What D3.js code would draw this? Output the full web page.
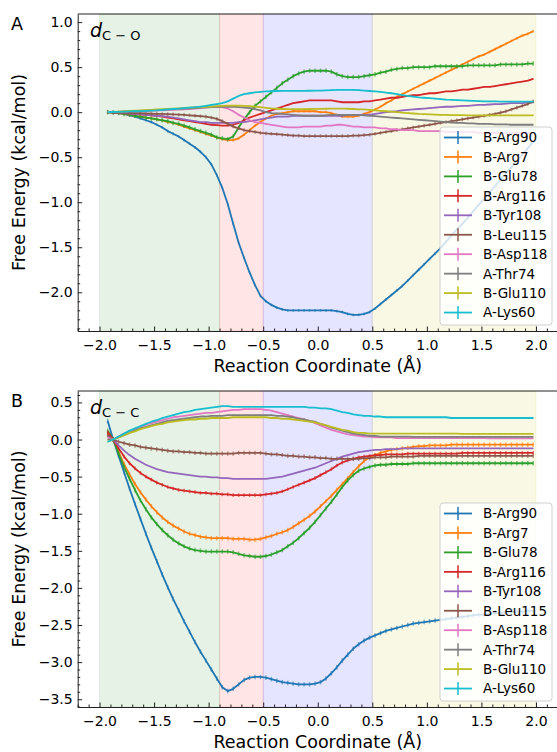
<!DOCTYPE html>
<html>
<head>
<meta charset="utf-8">
<script src="https://cdn.jsdelivr.net/npm/d3@7"></script>
<style>
  body { margin: 0; background: #fff; }
  svg { display: block; font-family: "DejaVu Sans", sans-serif; }
</style>
</head>
<body>
<div id="chart"></div>
<script>
// Residues, in legend order
const residues = ["B-Arg90", "B-Arg7", "B-Glu78", "B-Arg116", "B-Tyr108",
                  "B-Leu115", "B-Asp118", "A-Thr74", "B-Glu110", "A-Lys60"];

// Reaction coordinate (bin centres, Å)
const coord = [
  -1.925, -1.875, -1.825, -1.775, -1.725, -1.675, -1.625, -1.575, -1.525, -1.475,
  -1.425, -1.375, -1.325, -1.275, -1.225, -1.175, -1.125, -1.075, -1.025, -0.975,
  -0.925, -0.875, -0.825, -0.775, -0.725, -0.675, -0.625, -0.575, -0.525, -0.475,
  -0.425, -0.375, -0.325, -0.275, -0.225, -0.175, -0.125, -0.075, -0.025, 0.025,
  0.075, 0.125, 0.175, 0.225, 0.275, 0.325, 0.375, 0.425, 0.475, 0.525,
  0.575, 0.625, 0.675, 0.725, 0.775, 0.825, 0.875, 0.925, 0.975, 1.025,
  1.075, 1.125, 1.175, 1.225, 1.275, 1.325, 1.375, 1.425, 1.475, 1.525,
  1.575, 1.625, 1.675, 1.725, 1.775, 1.825, 1.875, 1.925, 1.975
];

// Shaded stages along the coordinate
const regionEdges = [-2.0, -0.9, -0.5, 0.5, 2.0];

// Tick labels
const xTicks = [-2.0, -1.5, -1.0, -0.5, 0.0, 0.5, 1.0, 1.5, 2.0];
const yTicksA = [-2.0, -1.5, -1.0, -0.5, 0.0, 0.5, 1.0];
const yTicksB = [-3.5, -3.0, -2.5, -2.0, -1.5, -1.0, -0.5, 0.0, 0.5];

// Panel A: d(C-O), free energy (kcal/mol)
const a_arg90 = [0, -0.005, -0.01, -0.02, -0.035, -0.05, -0.07, -0.09, -0.11, -0.14,
  -0.17, -0.21, -0.24, -0.27, -0.31, -0.35, -0.39, -0.44, -0.50, -0.58,
  -0.70, -0.84, -1.02, -1.24, -1.45, -1.62, -1.78, -1.92, -2.04, -2.10,
  -2.14, -2.17, -2.19, -2.20, -2.20, -2.20, -2.20, -2.20, -2.20, -2.20,
  -2.20, -2.20, -2.21, -2.22, -2.24, -2.25, -2.25, -2.24, -2.22, -2.18,
  -2.13, -2.08, -2.03, -1.98, -1.93, -1.87, -1.81, -1.75, -1.69, -1.63,
  -1.57, -1.51, -1.44, -1.37, -1.30, -1.24, -1.17, -1.10, -1.03, -0.96,
  -0.89, -0.82, -0.75, -0.68, -0.61, -0.54, -0.47, -0.40, -0.33];
const a_arg7 = [0, -0.005, -0.01, -0.02, -0.03, -0.04, -0.05, -0.06, -0.07, -0.08,
  -0.09, -0.11, -0.12, -0.14, -0.16, -0.18, -0.20, -0.22, -0.24, -0.26,
  -0.28, -0.30, -0.31, -0.31, -0.29, -0.25, -0.20, -0.15, -0.11, -0.07,
  -0.04, -0.02, -0.01, 0.0, 0.01, 0.01, 0.01, 0.01, 0.01, 0.0,
  0.0, -0.01, -0.03, -0.05, -0.05, -0.05, -0.04, -0.02, 0.0, 0.03,
  0.06, 0.10, 0.13, 0.17, 0.20, 0.23, 0.26, 0.29, 0.32, 0.35,
  0.38, 0.41, 0.44, 0.47, 0.50, 0.53, 0.56, 0.59, 0.62, 0.64,
  0.67, 0.70, 0.73, 0.76, 0.79, 0.82, 0.85, 0.87, 0.90];
const a_glu78 = [0, -0.005, -0.01, -0.02, -0.03, -0.04, -0.05, -0.06, -0.07, -0.08,
  -0.09, -0.10, -0.12, -0.13, -0.15, -0.17, -0.19, -0.21, -0.23, -0.25,
  -0.28, -0.29, -0.30, -0.27, -0.17, -0.08, 0.0, 0.07, 0.12, 0.17,
  0.22, 0.27, 0.32, 0.36, 0.40, 0.43, 0.45, 0.46, 0.46, 0.46,
  0.46, 0.45, 0.42, 0.40, 0.39, 0.39, 0.39, 0.40, 0.41, 0.42,
  0.44, 0.45, 0.47, 0.48, 0.49, 0.49, 0.50, 0.50, 0.50, 0.50,
  0.51, 0.51, 0.51, 0.51, 0.51, 0.51, 0.52, 0.52, 0.52, 0.52,
  0.52, 0.52, 0.53, 0.53, 0.53, 0.53, 0.53, 0.54, 0.54];
const a_arg116 = [0, -0.003, -0.006, -0.01, -0.015, -0.02, -0.025, -0.03, -0.035, -0.04,
  -0.05, -0.06, -0.07, -0.08, -0.09, -0.10, -0.11, -0.12, -0.13, -0.14,
  -0.145, -0.15, -0.15, -0.14, -0.12, -0.09, -0.06, -0.04, -0.02, 0.0,
  0.02, 0.04, 0.06, 0.08, 0.10, 0.11, 0.12, 0.13, 0.13, 0.13,
  0.13, 0.13, 0.12, 0.11, 0.11, 0.11, 0.11, 0.12, 0.12, 0.13,
  0.14, 0.15, 0.16, 0.16, 0.17, 0.18, 0.19, 0.19, 0.20, 0.21,
  0.21, 0.22, 0.23, 0.23, 0.24, 0.25, 0.25, 0.26, 0.27, 0.28,
  0.28, 0.29, 0.30, 0.31, 0.32, 0.33, 0.34, 0.35, 0.37];
const a_tyr108 = [0, -0.003, -0.006, -0.01, -0.015, -0.02, -0.025, -0.03, -0.035, -0.04,
  -0.045, -0.05, -0.06, -0.07, -0.08, -0.09, -0.10, -0.11, -0.11, -0.12,
  -0.12, -0.12, -0.12, -0.12, -0.11, -0.11, -0.10, -0.09, -0.08, -0.07,
  -0.06, -0.05, -0.05, -0.05, -0.04, -0.04, -0.04, -0.04, -0.04, -0.04,
  -0.04, -0.04, -0.04, -0.04, -0.03, -0.03, -0.03, -0.03, -0.03, -0.02,
  -0.01, 0.0, 0.005, 0.01, 0.02, 0.025, 0.03, 0.035, 0.04, 0.045,
  0.05, 0.055, 0.06, 0.06, 0.065, 0.07, 0.07, 0.075, 0.08, 0.08,
  0.085, 0.09, 0.09, 0.095, 0.10, 0.10, 0.10, 0.105, 0.11];
const a_leu115 = [0, -0.002, -0.004, -0.006, -0.008, -0.01, -0.012, -0.014, -0.016, -0.018,
  -0.02, -0.022, -0.025, -0.028, -0.03, -0.035, -0.04, -0.045, -0.05, -0.06,
  -0.075, -0.10, -0.13, -0.16, -0.18, -0.20, -0.21, -0.22, -0.23, -0.235,
  -0.24, -0.245, -0.25, -0.255, -0.26, -0.26, -0.265, -0.265, -0.265, -0.265,
  -0.265, -0.265, -0.265, -0.265, -0.265, -0.26, -0.26, -0.255, -0.25, -0.24,
  -0.23, -0.22, -0.21, -0.20, -0.19, -0.18, -0.17, -0.16, -0.15, -0.14,
  -0.13, -0.12, -0.11, -0.10, -0.09, -0.08, -0.07, -0.06, -0.05, -0.04,
  -0.03, -0.02, -0.005, 0.01, 0.03, 0.05, 0.07, 0.09, 0.12];
const a_asp118 = [0, 0.002, 0.004, 0.006, 0.008, 0.01, 0.012, 0.014, 0.016, 0.018,
  0.02, 0.022, 0.025, 0.028, 0.03, 0.035, 0.04, 0.045, 0.05, 0.055,
  0.06, 0.055, 0.04, 0.01, -0.03, -0.06, -0.09, -0.11, -0.12, -0.13,
  -0.14, -0.15, -0.16, -0.17, -0.17, -0.17, -0.16, -0.16, -0.16, -0.16,
  -0.15, -0.15, -0.14, -0.14, -0.15, -0.16, -0.16, -0.17, -0.17, -0.17,
  -0.18, -0.18, -0.19, -0.19, -0.20, -0.20, -0.20, -0.21, -0.21, -0.21,
  -0.21, -0.21, -0.22, -0.22, -0.22, -0.22, -0.22, -0.22, -0.23, -0.23,
  -0.23, -0.23, -0.23, -0.23, -0.23, -0.23, -0.23, -0.23, -0.23];
const a_thr74 = [0, 0.002, 0.004, 0.006, 0.008, 0.01, 0.013, 0.016, 0.02, 0.023,
  0.026, 0.03, 0.033, 0.036, 0.04, 0.043, 0.046, 0.05, 0.053, 0.056,
  0.06, 0.06, 0.06, 0.06, 0.055, 0.05, 0.045, 0.035, 0.02, 0.0,
  -0.01, -0.015, -0.02, -0.025, -0.03, -0.035, -0.04, -0.04, -0.04, -0.04,
  -0.035, -0.03, -0.03, -0.03, -0.03, -0.03, -0.03, -0.035, -0.04, -0.045,
  -0.05, -0.055, -0.06, -0.065, -0.07, -0.075, -0.08, -0.085, -0.09, -0.095,
  -0.10, -0.105, -0.11, -0.115, -0.12, -0.12, -0.125, -0.125, -0.13, -0.13,
  -0.13, -0.135, -0.135, -0.135, -0.14, -0.14, -0.14, -0.14, -0.14];
const a_glu110 = [0, 0.003, 0.006, 0.01, 0.013, 0.016, 0.02, 0.023, 0.026, 0.03,
  0.033, 0.036, 0.04, 0.043, 0.046, 0.05, 0.053, 0.056, 0.06, 0.063,
  0.066, 0.07, 0.072, 0.072, 0.072, 0.07, 0.068, 0.062, 0.055, 0.048,
  0.042, 0.038, 0.035, 0.033, 0.033, 0.033, 0.034, 0.035, 0.036, 0.037,
  0.038, 0.04, 0.04, 0.04, 0.038, 0.035, 0.032, 0.03, 0.025, 0.02,
  0.015, 0.01, 0.005, 0.0, -0.005, -0.01, -0.015, -0.02, -0.022, -0.025,
  -0.027, -0.03, -0.03, -0.032, -0.033, -0.034, -0.035, -0.035, -0.035, -0.035,
  -0.035, -0.035, -0.035, -0.035, -0.035, -0.035, -0.035, -0.035, -0.035];
const a_lys60 = [0, 0.002, 0.004, 0.006, 0.008, 0.01, 0.012, 0.015, 0.018, 0.02,
  0.025, 0.03, 0.035, 0.04, 0.045, 0.05, 0.055, 0.062, 0.07, 0.08,
  0.09, 0.10, 0.12, 0.15, 0.18, 0.20, 0.21, 0.22, 0.225, 0.23,
  0.232, 0.235, 0.237, 0.237, 0.237, 0.237, 0.237, 0.238, 0.24, 0.24,
  0.242, 0.245, 0.247, 0.248, 0.248, 0.247, 0.245, 0.24, 0.235, 0.23,
  0.225, 0.218, 0.21, 0.20, 0.19, 0.18, 0.172, 0.165, 0.16, 0.155,
  0.15, 0.145, 0.14, 0.137, 0.133, 0.13, 0.127, 0.125, 0.122, 0.12,
  0.12, 0.12, 0.118, 0.118, 0.118, 0.118, 0.118, 0.118, 0.118];

// Panel B: d(C-C), free energy (kcal/mol)
const b_arg90 = [0.25, 0, -0.22, -0.44, -0.66, -0.87, -1.07, -1.27, -1.46, -1.64,
  -1.82, -1.99, -2.15, -2.30, -2.45, -2.59, -2.73, -2.86, -2.98, -3.10,
  -3.22, -3.34, -3.39, -3.36, -3.30, -3.24, -3.21, -3.20, -3.20, -3.21,
  -3.23, -3.25, -3.27, -3.28, -3.29, -3.30, -3.30, -3.30, -3.29, -3.27,
  -3.22, -3.15, -3.07, -2.98, -2.90, -2.82, -2.76, -2.71, -2.67, -2.64,
  -2.61, -2.58, -2.56, -2.54, -2.52, -2.50, -2.48, -2.47, -2.46, -2.45,
  -2.44, -2.43, -2.42, -2.41, -2.40, -2.39, -2.38, -2.37, -2.36, -2.36,
  -2.35, -2.34, -2.34, -2.33, -2.33, -2.32, -2.32, -2.31, -2.31];
const b_arg7 = [0.08, 0, -0.17, -0.33, -0.47, -0.60, -0.71, -0.81, -0.90, -0.98,
  -1.05, -1.11, -1.16, -1.20, -1.24, -1.27, -1.29, -1.31, -1.32, -1.33,
  -1.33, -1.33, -1.33, -1.34, -1.34, -1.34, -1.35, -1.35, -1.34, -1.32,
  -1.30, -1.27, -1.25, -1.22, -1.18, -1.13, -1.08, -1.03, -0.97, -0.90,
  -0.83, -0.76, -0.68, -0.60, -0.52, -0.44, -0.36, -0.29, -0.24, -0.21,
  -0.18, -0.16, -0.14, -0.13, -0.12, -0.11, -0.10, -0.09, -0.09, -0.08,
  -0.08, -0.08, -0.08, -0.07, -0.07, -0.07, -0.07, -0.07, -0.07, -0.07,
  -0.07, -0.07, -0.07, -0.07, -0.07, -0.07, -0.07, -0.07, -0.07];
const b_glu78 = [0.12, 0, -0.19, -0.37, -0.53, -0.68, -0.82, -0.94, -1.05, -1.14,
  -1.22, -1.29, -1.35, -1.40, -1.44, -1.47, -1.49, -1.50, -1.51, -1.51,
  -1.51, -1.51, -1.51, -1.52, -1.54, -1.56, -1.57, -1.58, -1.58, -1.57,
  -1.55, -1.52, -1.49, -1.44, -1.39, -1.33, -1.26, -1.19, -1.11, -1.02,
  -0.93, -0.84, -0.74, -0.64, -0.55, -0.48, -0.42, -0.39, -0.37, -0.35,
  -0.34, -0.34, -0.33, -0.33, -0.33, -0.33, -0.32, -0.32, -0.32, -0.32,
  -0.32, -0.32, -0.32, -0.32, -0.32, -0.32, -0.32, -0.32, -0.32, -0.32,
  -0.32, -0.32, -0.32, -0.32, -0.32, -0.32, -0.32, -0.32, -0.32];
const b_arg116 = [0.10, 0, -0.12, -0.23, -0.32, -0.39, -0.45, -0.50, -0.54, -0.58,
  -0.61, -0.64, -0.66, -0.68, -0.69, -0.70, -0.71, -0.72, -0.72, -0.73,
  -0.73, -0.74, -0.74, -0.75, -0.75, -0.75, -0.75, -0.75, -0.75, -0.74,
  -0.73, -0.72, -0.70, -0.67, -0.64, -0.61, -0.58, -0.55, -0.52, -0.48,
  -0.44, -0.40, -0.35, -0.31, -0.28, -0.26, -0.24, -0.23, -0.22, -0.21,
  -0.21, -0.20, -0.20, -0.20, -0.20, -0.19, -0.19, -0.19, -0.19, -0.19,
  -0.19, -0.19, -0.19, -0.19, -0.19, -0.18, -0.18, -0.18, -0.18, -0.18,
  -0.18, -0.18, -0.18, -0.18, -0.18, -0.18, -0.18, -0.18, -0.18];
const b_tyr108 = [0.05, 0, -0.08, -0.15, -0.21, -0.26, -0.30, -0.34, -0.37, -0.40,
  -0.42, -0.44, -0.45, -0.46, -0.47, -0.48, -0.49, -0.50, -0.50, -0.51,
  -0.51, -0.52, -0.52, -0.53, -0.53, -0.53, -0.53, -0.53, -0.53, -0.53,
  -0.52, -0.51, -0.50, -0.48, -0.46, -0.44, -0.42, -0.40, -0.38, -0.35,
  -0.32, -0.29, -0.26, -0.23, -0.21, -0.19, -0.17, -0.16, -0.15, -0.14,
  -0.14, -0.13, -0.13, -0.13, -0.12, -0.12, -0.12, -0.12, -0.12, -0.12,
  -0.12, -0.12, -0.12, -0.12, -0.12, -0.12, -0.12, -0.12, -0.12, -0.12,
  -0.12, -0.12, -0.12, -0.12, -0.12, -0.12, -0.12, -0.12, -0.12];
const b_leu115 = [0.06, 0, -0.03, -0.05, -0.07, -0.08, -0.10, -0.11, -0.12, -0.13,
  -0.14, -0.15, -0.16, -0.16, -0.17, -0.17, -0.18, -0.18, -0.19, -0.19,
  -0.19, -0.19, -0.19, -0.19, -0.18, -0.18, -0.18, -0.18, -0.18, -0.19,
  -0.20, -0.20, -0.21, -0.22, -0.22, -0.23, -0.23, -0.24, -0.24, -0.25,
  -0.25, -0.26, -0.26, -0.26, -0.26, -0.26, -0.26, -0.25, -0.25, -0.24,
  -0.24, -0.24, -0.23, -0.23, -0.23, -0.23, -0.23, -0.22, -0.22, -0.22,
  -0.22, -0.22, -0.22, -0.22, -0.22, -0.22, -0.22, -0.22, -0.22, -0.22,
  -0.22, -0.22, -0.22, -0.22, -0.22, -0.22, -0.22, -0.22, -0.22];
const b_asp118 = [0.03, 0, 0.04, 0.08, 0.11, 0.14, 0.17, 0.20, 0.22, 0.24,
  0.26, 0.28, 0.30, 0.31, 0.32, 0.33, 0.34, 0.35, 0.36, 0.36,
  0.37, 0.38, 0.39, 0.40, 0.40, 0.41, 0.41, 0.41, 0.41, 0.40,
  0.39, 0.37, 0.35, 0.33, 0.31, 0.29, 0.27, 0.25, 0.22, 0.19,
  0.16, 0.13, 0.11, 0.09, 0.07, 0.06, 0.05, 0.04, 0.04, 0.03,
  0.03, 0.03, 0.03, 0.02, 0.02, 0.02, 0.02, 0.02, 0.02, 0.02,
  0.02, 0.02, 0.02, 0.02, 0.02, 0.02, 0.02, 0.02, 0.02, 0.02,
  0.015, 0.015, 0.015, 0.015, 0.015, 0.015, 0.015, 0.015, 0.015];
const b_thr74 = [0.0, 0, 0.03, 0.06, 0.09, 0.12, 0.15, 0.17, 0.19, 0.21,
  0.23, 0.25, 0.26, 0.27, 0.28, 0.29, 0.30, 0.31, 0.31, 0.32,
  0.32, 0.32, 0.33, 0.33, 0.33, 0.33, 0.33, 0.33, 0.33, 0.33,
  0.33, 0.32, 0.32, 0.31, 0.30, 0.28, 0.27, 0.25, 0.24, 0.21,
  0.19, 0.16, 0.14, 0.12, 0.10, 0.08, 0.07, 0.06, 0.05, 0.05,
  0.04, 0.04, 0.04, 0.04, 0.04, 0.04, 0.035, 0.035, 0.035, 0.035,
  0.035, 0.035, 0.035, 0.035, 0.035, 0.035, 0.035, 0.035, 0.035, 0.035,
  0.035, 0.035, 0.035, 0.035, 0.035, 0.035, 0.035, 0.035, 0.035];
const b_glu110 = [-0.03, 0, 0.03, 0.06, 0.09, 0.11, 0.14, 0.16, 0.18, 0.20,
  0.21, 0.23, 0.24, 0.25, 0.26, 0.27, 0.27, 0.28, 0.28, 0.29,
  0.29, 0.29, 0.29, 0.30, 0.30, 0.30, 0.30, 0.30, 0.30, 0.30,
  0.29, 0.29, 0.28, 0.28, 0.27, 0.26, 0.25, 0.24, 0.23, 0.21,
  0.19, 0.17, 0.15, 0.13, 0.12, 0.10, 0.09, 0.09, 0.08, 0.08,
  0.08, 0.08, 0.08, 0.08, 0.08, 0.08, 0.08, 0.08, 0.08, 0.08,
  0.08, 0.08, 0.08, 0.08, 0.08, 0.075, 0.075, 0.075, 0.075, 0.075,
  0.075, 0.075, 0.075, 0.075, 0.075, 0.075, 0.075, 0.075, 0.075];
const b_lys60 = [-0.03, 0, 0.04, 0.08, 0.12, 0.15, 0.18, 0.21, 0.24, 0.26,
  0.29, 0.31, 0.33, 0.35, 0.37, 0.38, 0.40, 0.41, 0.42, 0.43,
  0.44, 0.45, 0.45, 0.44, 0.44, 0.44, 0.44, 0.44, 0.44, 0.44,
  0.44, 0.44, 0.44, 0.44, 0.44, 0.44, 0.44, 0.43, 0.43, 0.42,
  0.42, 0.41, 0.39, 0.37, 0.36, 0.34, 0.33, 0.32, 0.32, 0.31,
  0.31, 0.30, 0.30, 0.30, 0.30, 0.30, 0.30, 0.30, 0.30, 0.30,
  0.30, 0.30, 0.30, 0.29, 0.29, 0.29, 0.29, 0.29, 0.29, 0.29,
  0.29, 0.29, 0.29, 0.29, 0.29, 0.29, 0.29, 0.29, 0.29];

// Error bar half-widths per residue (kcal/mol)
const errA = [0.015, 0.015, 0.025, 0.006, 0.006, 0.02, 0.006, 0.006, 0.006, 0.006];
const errB = [0.03, 0.03, 0.03, 0.025, 0.006, 0.03, 0.006, 0.006, 0.006, 0.006];

const seriesA = [a_arg90, a_arg7, a_glu78, a_arg116, a_tyr108, a_leu115, a_asp118, a_thr74, a_glu110, a_lys60];
const seriesB = [b_arg90, b_arg7, b_glu78, b_arg116, b_tyr108, b_leu115, b_asp118, b_thr74, b_glu110, b_lys60];

// Styling
const colors = d3.schemeCategory10;
const regionColors = ["#008000", "#ff0000", "#0000ff", "#bfbf00"];
const spineColor = "#222";

const svg = d3.select("#chart")
    .append("svg")
    .attr("width", 557)
    .attr("height", 752);

const panels = [
    { letter: "A", sub: "C \u2212 O", series: seriesA, err: errA, yDomain: [-2.43, 1.09], yTicks: yTicksA,
      top: 14, bottom: 331, legendTop: 127 },
    { letter: "B", sub: "C \u2212 C", series: seriesB, err: errB, yDomain: [-3.605, 0.654], yTicks: yTicksB,
      top: 391, bottom: 707, legendTop: 503 }
];

panels.forEach(drawPanel);

function drawPanel(p) {
    const x = d3.scaleLinear().domain([-2.2, 2.2]).range([77.7, 557.8]);
    const y = d3.scaleLinear().domain(p.yDomain).range([p.bottom, p.top]);
    const g = svg.append("g");
    const clipId = "clip" + p.letter;

    g.append("clipPath")
        .attr("id", clipId)
        .append("rect")
        .attr("x", x.range()[0])
        .attr("y", p.top)
        .attr("width", x.range()[1] - x.range()[0])
        .attr("height", p.bottom - p.top);

    // Shaded stages
    g.selectAll(".region")
        .data(d3.pairs(regionEdges))
        .enter()
        .append("rect")
        .attr("class", "region")
        .attr("x", d => x(d[0]))
        .attr("width", d => x(d[1]) - x(d[0]))
        .attr("y", p.top)
        .attr("height", p.bottom - p.top)
        .attr("fill", (d, i) => regionColors[i])
        .attr("fill-opacity", 0.1)
        .attr("stroke", (d, i) => regionColors[i])
        .attr("stroke-opacity", 0.1);

    // Curves with error bars
    const plot = g.append("g").attr("clip-path", `url(#${clipId})`);
    const line = d3.line()
        .x((d, i) => x(coord[i]))
        .y(d => y(d));

    p.series.forEach((vals, k) => {
        const s = plot.append("g");
        s.append("path")
            .datum(vals)
            .attr("d", line)
            .attr("fill", "none")
            .attr("stroke", colors[k])
            .attr("stroke-width", 1.8)
            .attr("stroke-linejoin", "round");
        s.selectAll("line")
            .data(vals)
            .enter()
            .append("line")
            .attr("x1", (d, i) => x(coord[i]))
            .attr("x2", (d, i) => x(coord[i]))
            .attr("y1", d => y(d - p.err[k]))
            .attr("y2", d => y(d + p.err[k]))
            .attr("stroke", colors[k])
            .attr("stroke-width", 1.5)
            .attr("stroke-opacity", 0.6);
    });

    // Axes (ticks point inward)
    const fmt = d3.format(".1f");
    const xAxis = g.append("g")
        .attr("transform", `translate(0, ${p.bottom})`)
        .call(d3.axisBottom(x).tickValues(xTicks).tickFormat(fmt)
            .tickSizeInner(-4.5).tickSizeOuter(0).tickPadding(9));
    const xMinor = x.ticks(44).filter(t => !xTicks.some(m => Math.abs(m - t) < 1e-6));
    const xAxisMinor = g.append("g")
        .attr("transform", `translate(0, ${p.bottom})`)
        .call(d3.axisBottom(x).tickValues(xMinor).tickFormat("").tickSizeInner(-2.5).tickSizeOuter(0));
    xAxisMinor.select(".domain").remove();

    const yAxis = g.append("g")
        .attr("transform", `translate(${x.range()[0]}, 0)`)
        .call(d3.axisLeft(y).tickValues(p.yTicks).tickFormat(fmt)
            .tickSizeInner(-4.5).tickSizeOuter(0).tickPadding(5));
    const ySpan = p.yDomain[1] - p.yDomain[0];
    const yMinor = y.ticks(Math.round(ySpan / 0.1)).filter(t => !p.yTicks.some(m => Math.abs(m - t) < 1e-6));
    const yAxisMinor = g.append("g")
        .attr("transform", `translate(${x.range()[0]}, 0)`)
        .call(d3.axisLeft(y).tickValues(yMinor).tickFormat("").tickSizeInner(-2.5).tickSizeOuter(0));
    yAxisMinor.select(".domain").remove();

    [xAxis, xAxisMinor, yAxis, yAxisMinor].forEach(a => {
        a.attr("font-family", "DejaVu Sans, sans-serif").attr("font-size", 14);
        a.selectAll("path, line").attr("stroke", spineColor).attr("stroke-width", 1);
        a.selectAll("text").attr("fill", "#000");
    });

    // Top spine
    g.append("line")
        .attr("x1", x.range()[0])
        .attr("x2", x.range()[1])
        .attr("y1", p.top)
        .attr("y2", p.top)
        .attr("stroke", spineColor)
        .attr("stroke-width", 1);

    // Axis titles
    g.append("text")
        .attr("x", (x.range()[0] + x.range()[1]) / 2)
        .attr("y", p.bottom + 41)
        .attr("text-anchor", "middle")
        .style("font-size", "17.5px")
        .text("Reaction Coordinate (Å)");

    g.append("text")
        .attr("transform", `translate(25, ${(p.top + p.bottom) / 2}) rotate(-90)`)
        .attr("text-anchor", "middle")
        .style("font-size", "17.5px")
        .text("Free Energy (kcal/mol)");

    // Panel letter
    g.append("text")
        .attr("x", 11)
        .attr("y", p.top + 16)
        .style("font-size", "17.5px")
        .text(p.letter);

    // Distance label, e.g. d_{C-O}
    const lab = g.append("text")
        .attr("x", 90)
        .attr("y", p.top + 23)
        .style("font-size", "19px");
    lab.append("tspan").style("font-style", "italic").text("d");
    lab.append("tspan").attr("dy", 2.5).style("font-size", "13px").text(p.sub);

    // Legend
    const lg = g.append("g").attr("transform", `translate(440, ${p.legendTop})`);
    lg.append("rect")
        .attr("width", 112)
        .attr("height", 198)
        .attr("rx", 3)
        .attr("fill", "#fff")
        .attr("fill-opacity", 0.8)
        .attr("stroke", "#d0d0d0");
    residues.forEach((name, k) => {
        const cy = 10.5 + 19.45 * k;
        lg.append("line")
            .attr("x1", 4).attr("x2", 32)
            .attr("y1", cy).attr("y2", cy)
            .attr("stroke", colors[k]).attr("stroke-width", 1.8);
        lg.append("line")
            .attr("x1", 18).attr("x2", 18)
            .attr("y1", cy - 6.5).attr("y2", cy + 6.5)
            .attr("stroke", colors[k]).attr("stroke-width", 1.5);
        lg.append("text")
            .attr("x", 43)
            .attr("y", cy)
            .attr("dy", "0.36em")
            .style("font-size", "13.5px")
            .text(name);
    });
}
</script>
</body>
</html>
